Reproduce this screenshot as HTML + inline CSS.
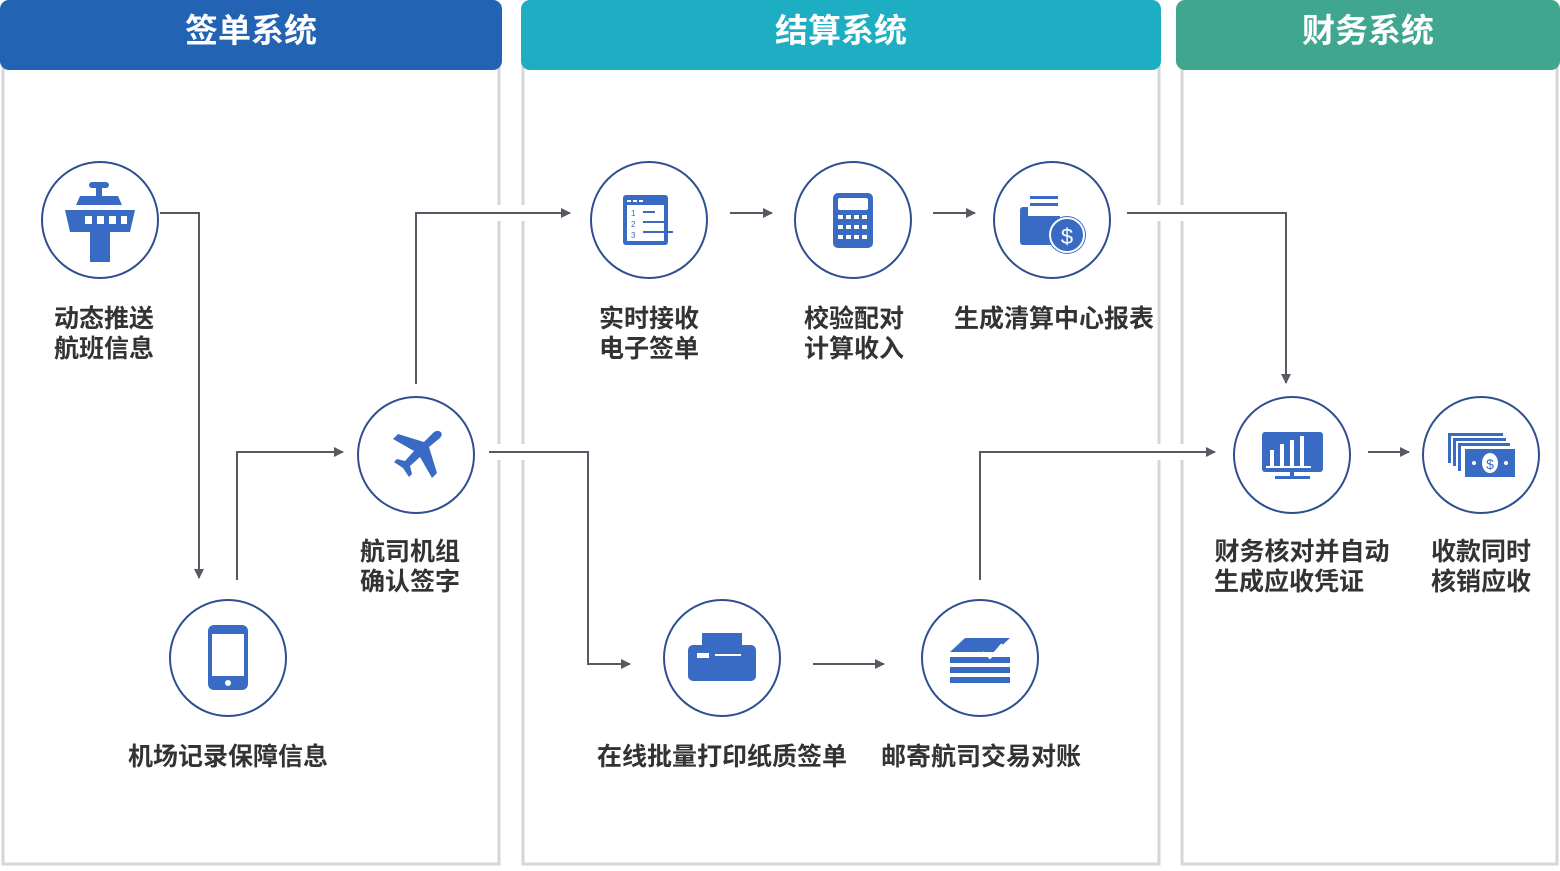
<!DOCTYPE html>
<html><head><meta charset="utf-8"><style>
body{margin:0;background:#fff;}
svg text{font-family:"Liberation Sans","Noto Sans CJK SC",sans-serif;}
</style></head><body>
<svg width="1560" height="866" viewBox="0 0 1560 866" xmlns="http://www.w3.org/2000/svg">
<defs><marker id="a" markerWidth="10" markerHeight="10" refX="9" refY="5" orient="auto" markerUnits="userSpaceOnUse"><path d="M0,0 L10,5 L0,10 z" fill="#555a63"/></marker></defs>
<g fill="none" stroke="#d6d6d6" stroke-width="3">
<path d="M3,60 V864 H499 V60"/>
<path d="M523,60 V864 H1159 V60"/>
<path d="M1182,60 V864 H1557 V60"/>
</g>
<rect x="0" y="0" width="502" height="70" rx="9" fill="#2263b3"/>
<rect x="521" y="0" width="640" height="70" rx="9" fill="#1eaec4"/>
<rect x="1176" y="0" width="384" height="70" rx="9" fill="#40a68f"/>
<g fill="#fff" font-size="33" text-anchor="middle" font-weight="bold">
<text x="251" y="42">签单系统</text><text x="841" y="42">结算系统</text><text x="1368" y="42">财务系统</text></g>
<g fill="#fff"><rect x="495" y="205" width="32" height="16"/><rect x="495" y="444" width="32" height="16"/><rect x="1155" y="205" width="30" height="16"/><rect x="1155" y="444" width="30" height="16"/></g>
<g fill="none" stroke="#555a63" stroke-width="2" marker-end="url(#a)">
<path d="M160,213 H199 V578"/>
<path d="M237,580 V452 H343"/>
<path d="M416,384 V213 H570"/>
<path d="M730,213 H772"/><path d="M933,213 H975"/>
<path d="M1127,213 H1286 V383"/>
<path d="M489,452 H588 V664 H630"/>
<path d="M813,664 H884"/>
<path d="M980,580 V452 H1215"/>
<path d="M1368,452 H1409"/>
</g>
<g fill="#fff" stroke="#2f4f8f" stroke-width="2">
<circle cx="100" cy="220" r="58"/><circle cx="228" cy="658" r="58"/><circle cx="416" cy="455" r="58"/>
<circle cx="649" cy="220" r="58"/><circle cx="853" cy="220" r="58"/><circle cx="1052" cy="220" r="58"/>
<circle cx="722" cy="658" r="58"/><circle cx="980" cy="658" r="58"/>
<circle cx="1292" cy="455" r="58"/><circle cx="1481" cy="455" r="58"/>
</g>
<g fill="#3a6bc4">
<rect x="89" y="182" width="20" height="6" rx="3"/><rect x="96" y="186" width="6" height="10"/>
<path d="M80,196 H118 L122,205 H76 z"/><path d="M65,210 H135 L130,232 H70 z"/>
<rect x="90" y="228" width="20" height="34"/>
<rect x="208" y="625" width="40" height="65" rx="6"/>
<path d="M440,438 C445,433 438,428 433,433 L424,442 L398,434 L393,439 L414,451 L405,461 L397,459 L394,462 L403,468 L409,477 L412,474 L410,466 L420,457 L432,478 L437,473 L429,447 z"/>
<rect x="623" y="195" width="45" height="50" rx="3"/>
<rect x="833" y="193" width="40" height="55" rx="5"/>
<rect x="1020" y="207" width="40" height="38" rx="3"/><circle cx="1067" cy="235" r="19"/>
<rect x="702" y="633" width="40" height="15"/><rect x="688" y="645" width="68" height="36" rx="5"/>
<path d="M950,652 L965,638 H1010 L995,652 z"/><rect x="950" y="657" width="60" height="6"/><rect x="950" y="667" width="60" height="6"/><rect x="950" y="677" width="60" height="6"/>
<rect x="1262" y="432" width="61" height="40" rx="3"/><rect x="1290" y="472" width="4" height="6"/><rect x="1275" y="476" width="35" height="3"/>
<rect x="1448" y="433" width="55" height="3"/><rect x="1448" y="433" width="3" height="30"/>
<rect x="1453" y="438" width="53" height="3"/><rect x="1453" y="438" width="3" height="28"/>
<rect x="1458" y="443" width="52" height="3"/><rect x="1458" y="443" width="3" height="28"/>
<rect x="1465" y="449" width="50" height="28"/>
</g>
<g fill="#fff">
<rect x="85" y="216" width="7" height="8"/><rect x="97" y="216" width="7" height="8"/><rect x="109" y="216" width="7" height="8"/><rect x="121" y="216" width="6" height="8"/>
<rect x="212" y="634" width="32" height="42"/><circle cx="228" cy="683" r="3"/>
<rect x="627" y="205" width="37" height="36"/>
<rect x="838" y="198" width="30" height="12" rx="2"/>
<rect x="838" y="215" width="5" height="4"/><rect x="846" y="215" width="5" height="4"/><rect x="854" y="215" width="5" height="4"/><rect x="862" y="215" width="5" height="4"/>
<rect x="838" y="225" width="5" height="4"/><rect x="846" y="225" width="5" height="4"/><rect x="854" y="225" width="5" height="4"/><rect x="862" y="225" width="5" height="4"/>
<rect x="838" y="235" width="5" height="4"/><rect x="846" y="235" width="5" height="4"/><rect x="854" y="235" width="5" height="4"/><rect x="862" y="235" width="5" height="4"/>
<rect x="1028" y="190" width="34" height="26"/><circle cx="1067" cy="235" r="17" fill="none" stroke="#fff" stroke-width="2"/>
<rect x="697" y="653" width="12" height="5"/><rect x="715" y="654" width="26" height="2"/>
<rect x="1270" y="450" width="4" height="16"/><rect x="1280" y="444" width="4" height="22"/><rect x="1290" y="440" width="4" height="26"/><rect x="1300" y="436" width="4" height="30"/><rect x="1266" y="466" width="45" height="2"/>
<ellipse cx="1490" cy="463" rx="8" ry="10"/><circle cx="1474" cy="463" r="2"/><circle cx="1506" cy="463" r="2"/>
</g>
<path d="M983,652 L990,658 L1002,644" fill="none" stroke="#fff" stroke-width="2"/>
<g fill="#3a6bc4"><rect x="1030" y="196" width="28" height="3"/><rect x="1030" y="203" width="28" height="3"/><text x="1067" y="244" font-size="22" fill="#fff" text-anchor="middle">$</text><text x="1490" y="469" font-size="14" text-anchor="middle">$</text>
<rect x="627" y="200" width="4" height="2" fill="#fff"/><rect x="633" y="200" width="4" height="2" fill="#fff"/><rect x="639" y="200" width="4" height="2" fill="#fff"/>
<text x="631" y="216" font-size="8" fill="#3a6bc4">1</text><text x="631" y="227" font-size="8">2</text><text x="631" y="238" font-size="8">3</text>
<path d="M643,212 H655 M643,222 H668 M643,232 H673" stroke="#3a6bc4" stroke-width="2"/>
</g>
<g fill="#333" font-size="25" font-weight="bold" text-anchor="middle">
<text x="104" y="327">动态推送</text><text x="104" y="357">航班信息</text>
<text x="228" y="765">机场记录保障信息</text>
<text x="410" y="560">航司机组</text><text x="410" y="590">确认签字</text>
<text x="649" y="327">实时接收</text><text x="649" y="357">电子签单</text>
<text x="854" y="327">校验配对</text><text x="854" y="357">计算收入</text>
<text x="1054" y="327">生成清算中心报表</text>
<text x="722" y="765">在线批量打印纸质签单</text>
<text x="981" y="765">邮寄航司交易对账</text>
<text x="1302" y="560">财务核对并自动</text><text x="1289" y="590">生成应收凭证</text>
<text x="1481" y="560">收款同时</text><text x="1481" y="590">核销应收</text>
</g>
</svg>
</body></html>
